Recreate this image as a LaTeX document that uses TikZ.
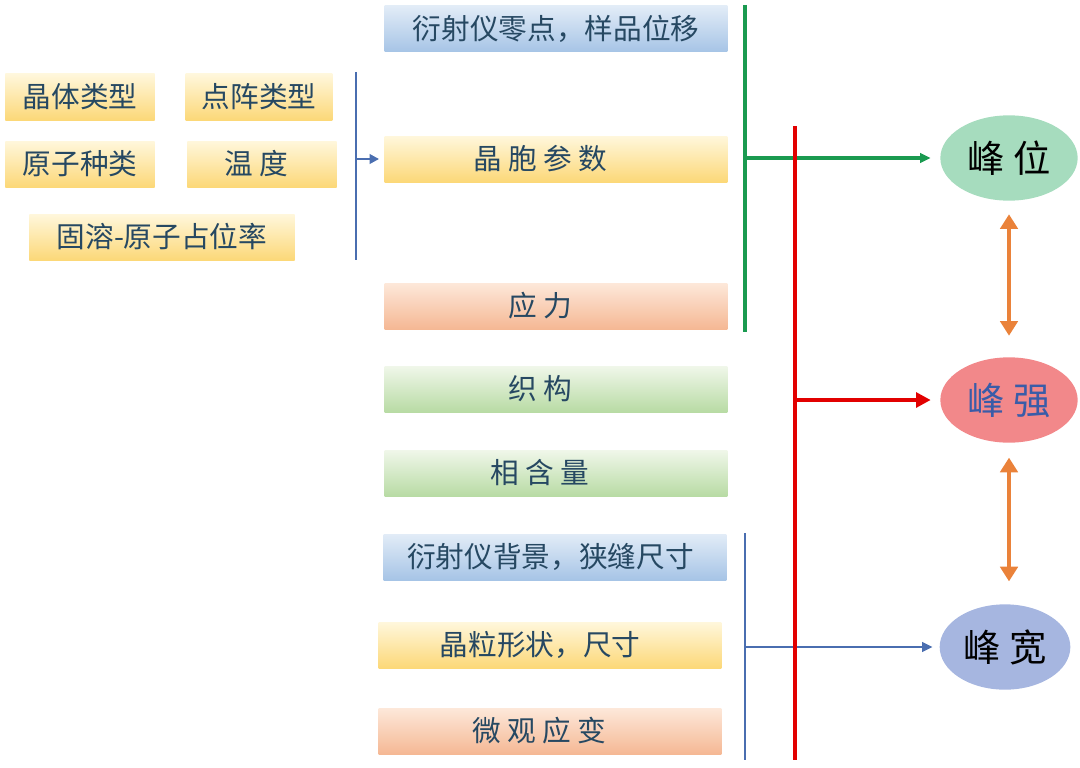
\documentclass[tikz,border=0pt]{standalone}
\usepackage{fontspec}
\setmainfont{Noto Sans CJK SC}
\usetikzlibrary{arrows.meta,shapes.geometric}
\definecolor{txt}{RGB}{38,72,98}
\definecolor{bluetop}{RGB}{226,236,247}
\definecolor{bluebot}{RGB}{166,196,230}
\definecolor{yeltop}{RGB}{255,247,220}
\definecolor{yelbot}{RGB}{252,216,120}
\definecolor{oratop}{RGB}{253,232,218}
\definecolor{orabot}{RGB}{245,184,148}
\definecolor{gretop}{RGB}{240,247,234}
\definecolor{grebot}{RGB}{184,219,164}
\definecolor{gline}{RGB}{26,154,80}
\definecolor{rline}{RGB}{226,0,0}
\definecolor{bline}{RGB}{74,110,176}
\definecolor{oline}{RGB}{234,130,58}
\definecolor{ellg}{RGB}{166,220,190}
\definecolor{ellr}{RGB}{242,136,138}
\definecolor{ellb}{RGB}{166,182,224}
\definecolor{ellrtxt}{RGB}{58,92,168}
\newcommand{\padR}[1]{\hbox to #1pt{}}
\begin{document}
\begin{tikzpicture}[x=0.75pt,y=-0.75pt,
  box/.style={rectangle,minimum height=34.5pt,inner sep=0pt,text=txt,
    font=\fontsize{21.5}{25}\selectfont},
  wide/.style={box,minimum width=257pt},
  bluebox/.style={wide,top color=bluetop,bottom color=bluebot},
  yelbox/.style={box,top color=yeltop,bottom color=yelbot},
  orabox/.style={wide,top color=oratop,bottom color=orabot},
  grebox/.style={wide,top color=gretop,bottom color=grebot},
  peak/.style={ellipse,minimum width=103pt,minimum height=64pt,inner sep=0pt,
    font=\fontsize{28}{32}\selectfont},
  gl/.style={draw=gline,line width=2.5pt},
  rl/.style={draw=rline,line width=3.3pt},
  bl/.style={draw=bline,line width=2pt},
  ol/.style={draw=oline,line width=3pt,{Triangle[length=11pt,width=13pt]}-{Triangle[length=11pt,width=13pt]}}
]
\useasboundingbox (0,0) rectangle (1080,767);

% left boxes
\node[yelbox,minimum width=112pt] (jt) at (80,97) {晶体类型};
\node[yelbox,minimum width=110pt] (dz) at (259,97) {点阵类型};
\node[yelbox,minimum width=112pt] (yz) at (80,164) {原子种类};
\node[yelbox,minimum width=112pt] (wd) at (262,164) {温 度\padR{9}};
\node[yelbox,minimum width=199pt] (gr) at (162,237) {固溶-原子占位率};

% middle column
\node[bluebox] (ys) at (556,29) {衍射仪零点，样品位移};
\node[yelbox,minimum width=257pt] (jb) at (556,159) {晶 胞 参 数\padR{24}};
\node[orabox] (yl) at (556,306) {应 力\padR{24}};
\node[grebox] (zg) at (556,389) {织 构\padR{24}};
\node[grebox] (xh) at (556,473) {相 含 量\padR{24}};
\node[bluebox] (bj) at (555,557) {衍射仪背景，狭缝尺寸\padR{7}};
\node[yelbox,minimum width=257pt] (jl) at (550,645) {晶粒形状，尺寸\padR{15}};
\node[orabox] (wg) at (550,731) {微 观 应 变\padR{16}};

% peaks
\node[peak,fill=ellg,text=black] (pw) at (1009,158) {峰 位};
\node[peak,fill=ellr,text=ellrtxt] (qs) at (1009,400) {峰 强};
\node[peak,fill=ellb,text=black,minimum width=98pt] (kd) at (1005,647) {峰 宽};

% left bracket
\coordinate (lT) at (356,72);
\coordinate (lB) at (356,260);
\coordinate (lJ) at (356,159);
\draw[bl] (lT) -- (lB);
\draw[bl,-{Triangle[length=7pt,width=7pt]},shorten >=4pt] (lJ) -- (lJ -| jb.west);

% green bracket
\coordinate (gT) at (745,5);
\coordinate (gB) at (745,332);
\coordinate (gJ) at (745,158);
\draw[gl] (gT) -- (gB);
\draw[gl,-{Triangle[length=8pt,width=7pt]},shorten >=7pt] (gJ) -- (pw.west);

% blue bracket
\coordinate (bT) at (745,533);
\coordinate (bB) at (745,760);
\coordinate (bJ) at (745,647);
\draw[bl] (bT) -- (bB);
\draw[bl,-{Triangle[length=8pt,width=7pt]},shorten >=5pt] (bJ) -- (kd.west);

% red bracket
\coordinate (rT) at (795,126);
\coordinate (rB) at (795,760);
\coordinate (rJ) at (795,400);
\draw[rl] (rT) -- (rB);
\draw[rl,-{Triangle[length=11pt,width=11pt]},shorten >=7pt] (rJ) -- (qs.west);

% orange double arrows
\draw[ol,shorten <=10pt,shorten >=16pt] (pw.south) -- (qs.north);
\draw[ol,shorten <=11pt,shorten >=17pt] (qs.south) -- (kd.north -| qs.south);
\end{tikzpicture}
\end{document}
